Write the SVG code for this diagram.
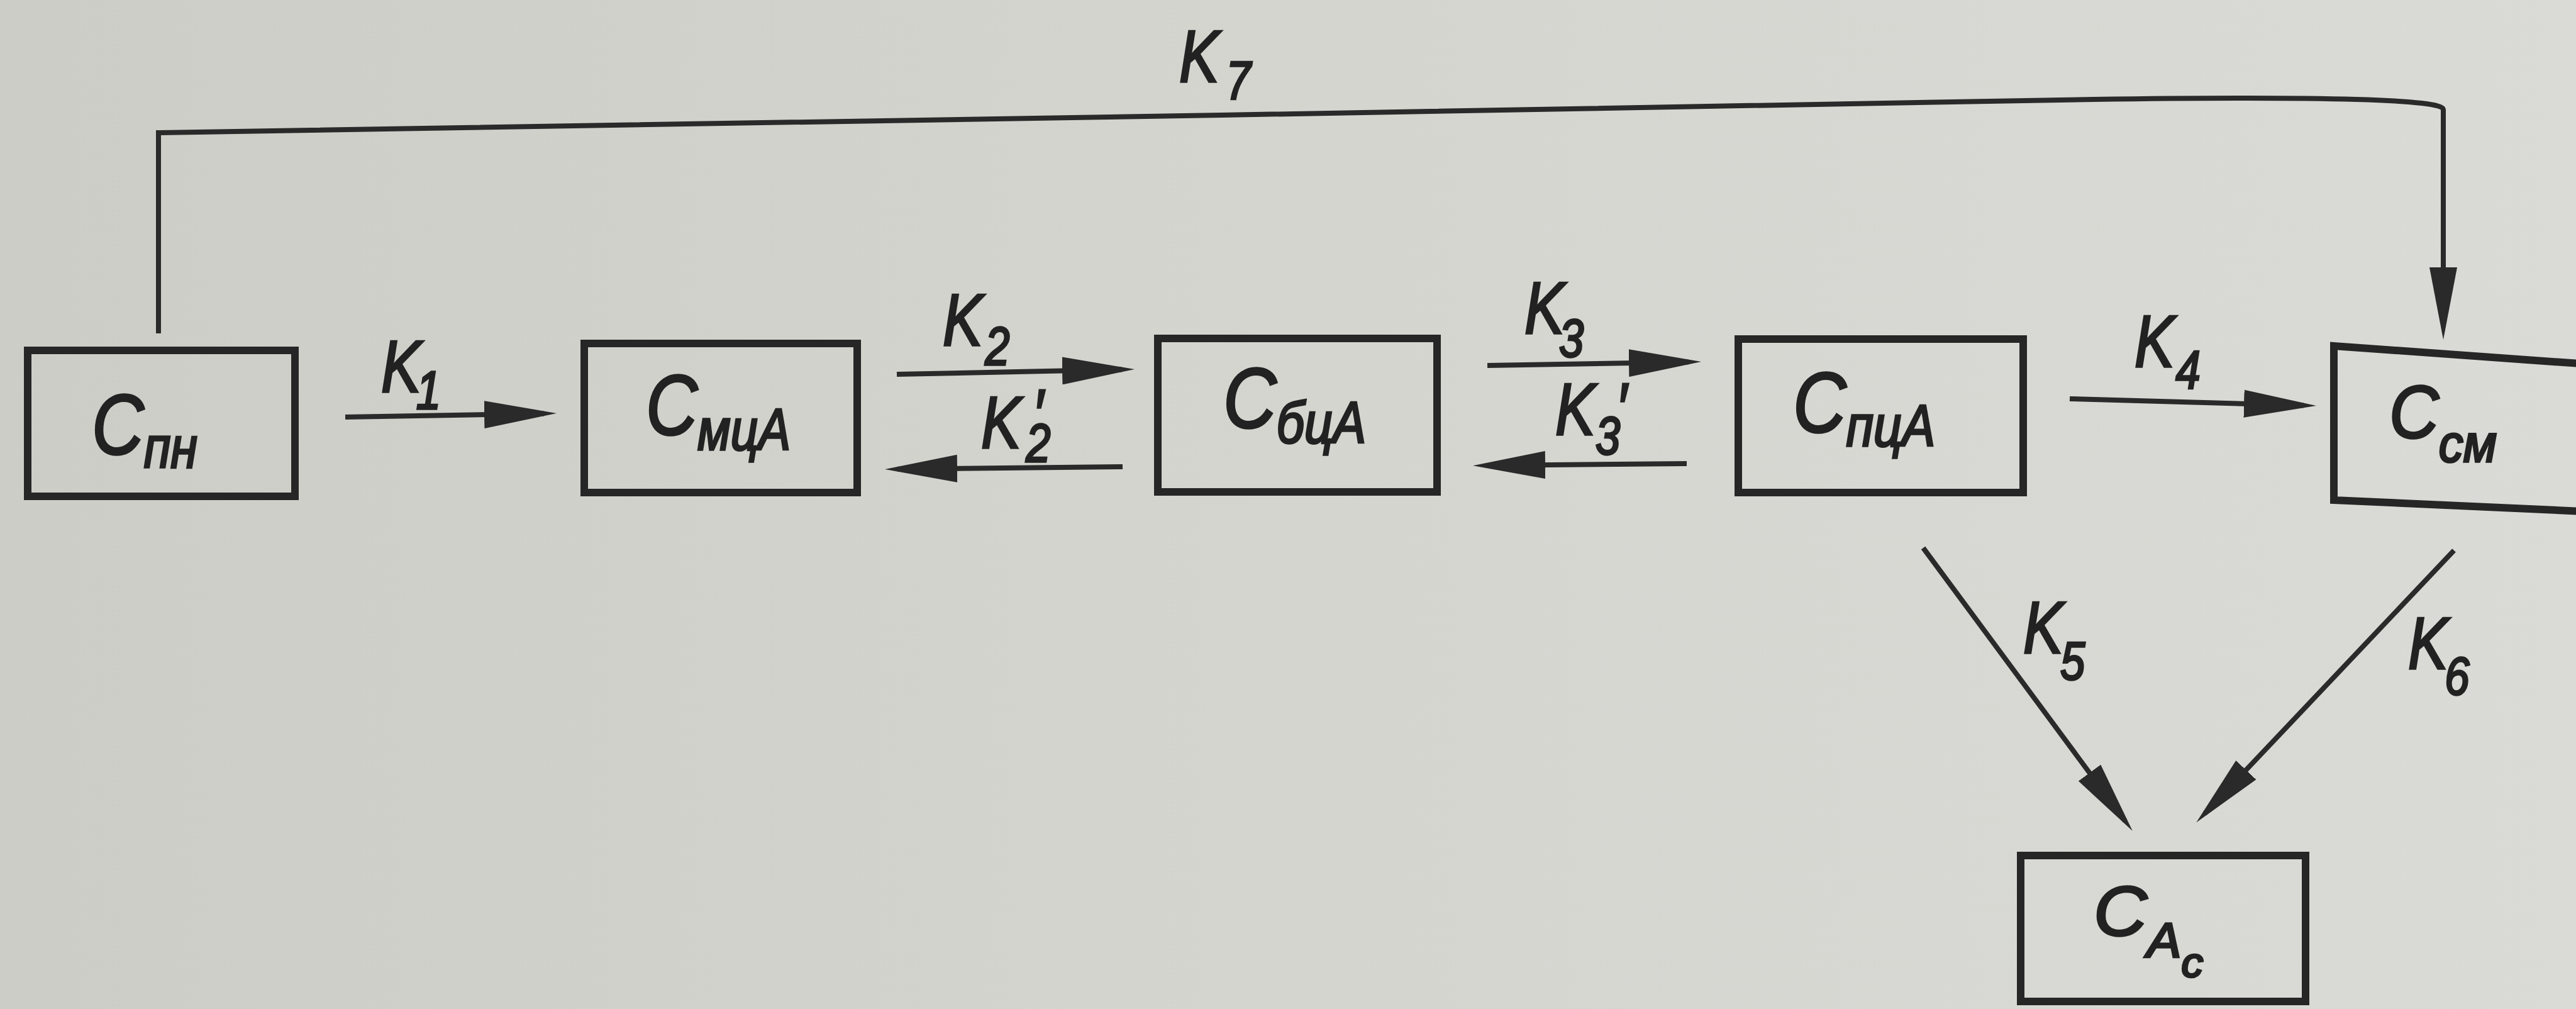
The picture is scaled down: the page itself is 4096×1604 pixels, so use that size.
<svg xmlns="http://www.w3.org/2000/svg" width="4096" height="1604" viewBox="0 0 4096 1604">
<defs>
<linearGradient id="bg" x1="0" y1="0" x2="1" y2="0">
<stop offset="0" stop-color="#cdcdc8"/>
<stop offset="0.5" stop-color="#d5d5d0"/>
<stop offset="1" stop-color="#dadad6"/>
</linearGradient>
<marker id="ah" viewBox="0 0 115 44" refX="95" refY="22" markerWidth="115" markerHeight="44" markerUnits="userSpaceOnUse" orient="auto">
<path d="M0,0 L115,22 L0,44 Z" fill="#2a2a2a"/>
</marker>
<style>
.box{fill:none;stroke:#262626;stroke-width:12;stroke-linejoin:miter}
.arr{fill:none;stroke:#2a2a2a;stroke-width:8;marker-end:url(#ah)}
.nl{font-family:"Liberation Sans","DejaVu Sans",sans-serif;font-style:italic;font-size:136px;fill:#222;stroke:#222;stroke-width:3.5}
.sub{font-size:92px}
.kl{font-family:"Liberation Sans","DejaVu Sans",sans-serif;font-style:italic;font-size:116px;fill:#222;stroke:#222;stroke-width:3.5}
.kd{font-size:86px}
.pr{font-size:110px}
</style>
</defs>
<rect x="0" y="0" width="4096" height="1604" fill="url(#bg)"/>

<g id="connectors">
<path class="arr" d="M252,530 V211 L1942,183 L3330,158 Q3885,150 3885,174 V520" stroke-width="7"/>
<path class="arr" d="M549,663 L865,657.4"/>
<path class="arr" d="M1426,595 L1784,587.4"/>
<path class="arr" d="M1785,742 L1427,745.8"/>
<path class="arr" d="M2365,581 L2685,575.4"/>
<path class="arr" d="M2682,737 L2362,740"/>
<path class="arr" d="M3291,634 L3663,644.4"/>
<path class="arr" d="M3058,871 L3379,1305"/>
<path class="arr" d="M3902,875 L3506,1293"/>
</g>

<g id="labels">
<text class="kl" transform="translate(1875,130) scale(0.82,1)">K<tspan class="kd" x="91" y="27">7</tspan></text>
<text class="kl" transform="translate(606,623) scale(0.82,1)">K<tspan class="kd" x="68" y="27">1</tspan></text>
<text class="kl" transform="translate(1499,549) scale(0.82,1)">K<tspan class="kd" x="82" y="31">2</tspan></text>
<text class="kl" transform="translate(1560,712) scale(0.82,1)">K<tspan class="kd" x="87" y="22">2</tspan><tspan class="pr" x="100" y="-16">′</tspan></text>
<text class="kl" transform="translate(2424,530) scale(0.82,1)">K<tspan class="kd" x="67" y="37">3</tspan></text>
<text class="kl" transform="translate(2473,691) scale(0.82,1)">K<tspan class="kd" x="78" y="31">3</tspan><tspan class="pr" x="118" y="-5">′</tspan></text>
<text class="kl" transform="translate(3394,583) scale(0.82,1)">K<tspan class="kd" x="80" y="34">4</tspan></text>
<text class="kl" transform="translate(3217,1038) scale(0.82,1)">K<tspan class="kd" x="72" y="42">5</tspan></text>
<text class="kl" transform="translate(3829,1063) scale(0.82,1)">K<tspan class="kd" x="71" y="41">6</tspan></text>
</g>

<g id="node-spn">
<rect class="box" x="44" y="557" width="425" height="232"/>
<text class="nl" x="146" y="722" textLength="168" lengthAdjust="spacingAndGlyphs">С<tspan class="sub" dy="21">пн</tspan></text>
</g>
<g id="node-smca">
<rect class="box" x="929" y="546" width="434" height="237"/>
<text class="nl" x="1027" y="691" textLength="230" lengthAdjust="spacingAndGlyphs">С<tspan class="sub" dy="24">мцА</tspan></text>
</g>
<g id="node-sbca">
<rect class="box" x="1841" y="538" width="444" height="244"/>
<text class="nl" x="1945" y="680" textLength="227" lengthAdjust="spacingAndGlyphs">С<tspan class="sub" dy="24">бцА</tspan></text>
</g>
<g id="node-spca">
<rect class="box" x="2764" y="539" width="453" height="244"/>
<text class="nl" x="2851" y="687" textLength="226" lengthAdjust="spacingAndGlyphs">С<tspan class="sub" dy="22">пцА</tspan></text>
</g>
<g id="node-ssm">
<path class="box" d="M3711,550 L4130,580 L4130,814 L3711,795 Z"/>
<text class="nl" x="3799" y="696" textLength="171" lengthAdjust="spacingAndGlyphs" style="font-size:118px">С<tspan class="sub" dy="38" style="font-size:84px">см</tspan></text>
</g>
<g id="node-sac">
<rect class="box" x="3213" y="1360" width="453" height="232"/>
<text class="nl" x="3329" y="1487" textLength="174" lengthAdjust="spacingAndGlyphs" style="font-size:112px">С<tspan class="sub" dy="35" style="font-size:78px">A</tspan><tspan class="sub" dy="31" style="font-size:66px">c</tspan></text>
</g>
</svg>
